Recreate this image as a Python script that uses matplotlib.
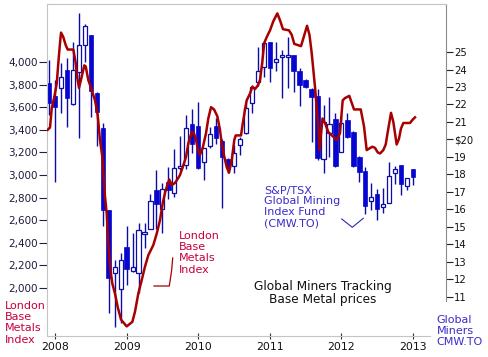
import numpy as np
import pandas as pd
import matplotlib
matplotlib.use('Agg')
import matplotlib.pyplot as plt
from matplotlib.ticker import FixedLocator, FuncFormatter

# London Base Metals Index (left axis)
lme_t = [2007.898, 2007.930, 2007.954, 2007.990, 2008.024, 2008.046, 2008.070, 2008.084,
         2008.116, 2008.149, 2008.177, 2008.256, 2008.289, 2008.311, 2008.335, 2008.373,
         2008.409, 2008.429, 2008.465, 2008.513, 2008.559, 2008.596, 2008.628, 2008.661,
         2008.698, 2008.722, 2008.744, 2008.768, 2008.800, 2008.838, 2008.876, 2008.922,
         2009.001, 2009.080, 2009.117, 2009.163, 2009.211, 2009.257, 2009.303, 2009.373,
         2009.420, 2009.466, 2009.504, 2009.536, 2009.568, 2009.596, 2009.630, 2009.676,
         2009.708, 2009.746, 2009.784, 2009.830, 2009.862, 2009.909, 2009.941, 2009.969,
         2010.001, 2010.025, 2010.063, 2010.109, 2010.141, 2010.179, 2010.221, 2010.267,
         2010.304, 2010.328, 2010.365, 2010.398, 2010.430, 2010.468, 2010.504, 2010.524,
         2010.598, 2010.616, 2010.654, 2010.677, 2010.723, 2010.756, 2010.793, 2010.831,
         2010.863, 2010.895, 2010.923, 2010.957, 2011.003, 2011.049, 2011.105, 2011.142,
         2011.184, 2011.268, 2011.306, 2011.342, 2011.436, 2011.520, 2011.554, 2011.585,
         2011.631, 2011.655, 2011.677, 2011.694, 2011.736, 2011.771, 2011.817, 2011.934,
         2011.980, 2012.018, 2012.050, 2012.110, 2012.176, 2012.270, 2012.316, 2012.353,
         2012.432, 2012.469, 2012.507, 2012.539, 2012.585, 2012.619, 2012.647, 2012.693,
         2012.725, 2012.749, 2012.772, 2012.804, 2012.832, 2012.865, 2012.958, 2012.996,
         2013.028]
lme_v = [3400, 3420, 3590, 3690, 3810, 3990, 4170, 4260,
         4220, 4150, 4110, 4110, 3990, 3860, 3770, 3870,
         3970, 3960, 3840, 3750, 3660, 3530, 3310, 3160,
         2810, 2660, 2400, 2190, 2040, 1950, 1830, 1720,
         1660, 1700, 1790, 1950, 2070, 2190, 2290, 2380,
         2480, 2600, 2750, 2840, 2910, 2960, 2910, 2930,
         2960, 3000, 3070, 3160, 3280, 3380, 3370, 3310,
         3210, 3180, 3240, 3370, 3500, 3600, 3580, 3520,
         3400, 3280, 3160, 3070, 3020, 3130, 3310, 3350,
         3350, 3430, 3580, 3660, 3720, 3780, 3760, 3790,
         3840, 4000, 4170, 4220, 4280, 4360, 4430, 4370,
         4290, 4280, 4240, 4160, 4140, 4320, 4240, 4080,
         3780, 3600, 3430, 3220, 3500, 3460, 3380, 3310,
         3370, 3660, 3680, 3700, 3580, 3580, 3430, 3220,
         3250, 3240, 3200, 3190, 3220, 3270, 3380, 3550,
         3470, 3370, 3270, 3320, 3410, 3460, 3460, 3490,
         3510]

# CMW.TO monthly candles (right axis), Dec 2007 - Jan 2013
months = pd.period_range('2007-12', '2013-01', freq='M')
cmw_open = [23.21, 22.49, 22.93, 23.97, 22.01, 23.86, 25.40, 25.97, 22.64, 20.67,
            15.97, 12.35, 11.44, 13.87, 12.50, 12.35, 14.62, 14.87, 17.11, 16.01,
            17.59, 16.93, 18.35, 18.54, 20.89, 20.77, 18.73, 19.65, 20.77, 19.93,
            18.87, 18.49, 19.69, 20.35, 22.07, 23.30, 24.16, 25.55, 24.41, 24.73,
            24.70, 24.83, 23.93, 23.40, 22.87, 22.49, 18.87, 20.35, 21.15, 19.30,
            21.11, 20.45, 19.02, 18.20, 16.50, 16.89, 16.13, 16.39, 18.10, 18.54,
            17.36, 18.31]
cmw_high = [24.54, 23.40, 24.35, 24.64, 25.57, 27.21, 26.60, 25.97, 22.70, 20.93,
            15.97, 13.11, 13.50, 15.06, 14.64, 15.25, 15.21, 16.89, 18.26, 17.53,
            18.45, 19.44, 20.20, 21.40, 21.74, 22.16, 19.50, 20.73, 21.21, 20.03,
            18.94, 19.69, 20.16, 22.07, 23.11, 25.27, 25.51, 25.57, 25.59, 25.11,
            25.87, 24.85, 24.07, 23.45, 22.94, 22.87, 21.97, 22.45, 21.50, 21.40,
            21.50, 20.48, 19.05, 18.45, 17.53, 17.17, 17.25, 18.73, 18.49, 18.54,
            17.80, 18.31]
cmw_low = [21.40, 17.59, 21.53, 20.73, 21.97, 20.10, 24.45, 21.30, 19.65, 15.07,
           10.07, 9.27, 9.53, 11.69, 12.45, 11.21, 13.78, 14.87, 14.87, 14.64,
           16.58, 16.73, 18.26, 18.30, 19.21, 18.30, 17.69, 19.53, 19.74, 16.07,
           18.07, 18.07, 19.11, 20.30, 21.53, 23.06, 23.59, 23.30, 23.93, 22.35,
           22.93, 22.73, 21.91, 22.92, 19.87, 18.83, 18.07, 19.02, 18.45, 19.30,
           20.07, 18.45, 17.59, 15.74, 15.97, 15.40, 15.82, 16.39, 17.46, 16.83,
           17.11, 17.40]
cmw_close = [22.10, 21.87, 23.59, 22.39, 23.97, 25.40, 26.49, 22.79, 21.59, 15.97,
             12.07, 12.73, 13.11, 12.58, 12.70, 14.83, 14.65, 16.50, 16.31, 17.15,
             17.11, 18.39, 18.49, 20.64, 19.74, 18.35, 19.50, 20.30, 20.07, 19.02,
             18.45, 19.25, 20.01, 21.78, 22.98, 23.93, 25.50, 24.07, 24.58, 24.75,
             24.83, 23.93, 23.11, 22.98, 22.45, 18.93, 21.02, 20.89, 18.49, 20.93,
             20.16, 18.50, 18.16, 16.22, 16.73, 16.03, 16.31, 17.91, 18.31, 17.46,
             17.80, 17.87]

years = [2008, 2009, 2010, 2011, 2012, 2013]
left_ticks = [2000, 2200, 2400, 2600, 2800, 3000, 3200, 3400, 3600, 3800, 4000]
right_ticks = [11, 12, 13, 14, 15, 16, 17, 18, 19, 20, 21, 22, 23, 24, 25]

W, H = 488, 357
fig = plt.figure(figsize=(W / 100, H / 100), dpi=100)
ax = fig.add_axes([47 / W, 1 - 336 / H, 399 / W, 332 / H])
ax2 = ax.twinx()

# candles
t = np.array([p.year + (p.month - 1) / 12 for p in months])
o = np.array(cmw_open)
c = np.array(cmw_close)
hi = np.array(cmw_high)
lo = np.array(cmw_low)
up = c >= o
wick_col = '#0c0ca8'
ax2.vlines(t, lo, hi, color=wick_col, linewidth=1.0, zorder=1)
ax2.bar(t[~up], (o - c)[~up], bottom=c[~up], width=0.062, color='#0606d0',
        edgecolor='#0606d0', linewidth=0.5, zorder=2)
ax2.bar(t[up], np.maximum((c - o)[up], 0.08), bottom=o[up], width=0.058, color='white',
        edgecolor=wick_col, linewidth=0.9, zorder=2)

# base metals line
ax.plot(lme_t, lme_v, color='#a80000', linewidth=1.8, zorder=3)
ax.set_zorder(ax2.get_zorder() + 1)
ax.patch.set_visible(False)

ax.set_xlim(2007.888, 2013.461)
ax.set_ylim(1575, 4513)
ax2.set_ylim(8.771, 27.743)

ax.yaxis.set_major_locator(FixedLocator(left_ticks))
ax.yaxis.set_major_formatter(FuncFormatter(lambda v, p: f'{int(v):,}'))
ax.set_xticks(years)
ax.set_xticklabels([str(y) for y in years])
ax2.yaxis.set_major_locator(FixedLocator(right_ticks))
ax2.yaxis.set_major_formatter(FuncFormatter(lambda v, p: '$20' if int(v) == 20 else str(int(v))))

ax.tick_params(axis='y', direction='out', length=6, width=0.8, color='#222244',
               labelsize=7.5, labelcolor='#1c1c3c', pad=0.5)
ax.tick_params(axis='x', direction='inout', length=5, width=0.8, color='#333333',
               labelsize=7.8, labelcolor='#111111', pad=2)
ax2.tick_params(axis='y', direction='out', length=5, width=0.8, color='#222222',
                labelsize=7.2, labelcolor='#111111', pad=1)

for s in ['top', 'left', 'bottom']:
    ax.spines[s].set_color('#c4c4c4')
ax.spines['right'].set_visible(False)
ax.spines['bottom'].set_bounds(2007.888, 2013.24)
for s in ['top', 'left', 'bottom']:
    ax2.spines[s].set_visible(False)
ax2.spines['right'].set_color('#8c8c8c')
ax2.spines['right'].set_bounds(10.77, 27.743)


def fx(px):
    return px / W


def fy(py):
    return 1 - py / H


red_txt = '#c8003c'
blue_txt = '#3a2cc8'
fig.text(fx(5), fy(301), 'London\nBase\nMetals\nIndex', color=red_txt, fontsize=8,
         va='top', ha='left', linespacing=1.15)
fig.text(fx(179), fy(231), 'London\nBase\nMetals\nIndex', color=red_txt, fontsize=8,
         va='top', ha='left', linespacing=1.15)
fig.text(fx(264), fy(185.5), 'S&P/TSX\nGlobal Mining\nIndex Fund\n(CMW.TO)', color=blue_txt,
         fontsize=8, va='top', ha='left', linespacing=1.12)
fig.text(fx(323), fy(280), 'Global Miners Tracking\nBase Metal prices', color='#111111',
         fontsize=8.7, va='top', ha='center', linespacing=1.05)
fig.text(fx(436.5), fy(315), 'Global\nMiners\nCMW.TO', color=blue_txt, fontsize=8,
         va='top', ha='left', linespacing=1.12)

# callout pointers
fig.add_artist(plt.Line2D([fx(154), fx(169.3), fx(171.7), fx(172.7)],
                          [fy(286), fy(286), fy(270), fy(258)],
                          color='#a80000', linewidth=0.9))
fig.add_artist(plt.Line2D([fx(341.7), fx(352.3), fx(363.3)],
                          [fy(219), fy(227.3), fy(218.3)],
                          color='#2a2ab0', linewidth=0.8))

fig.savefig('out.png', dpi=100)
